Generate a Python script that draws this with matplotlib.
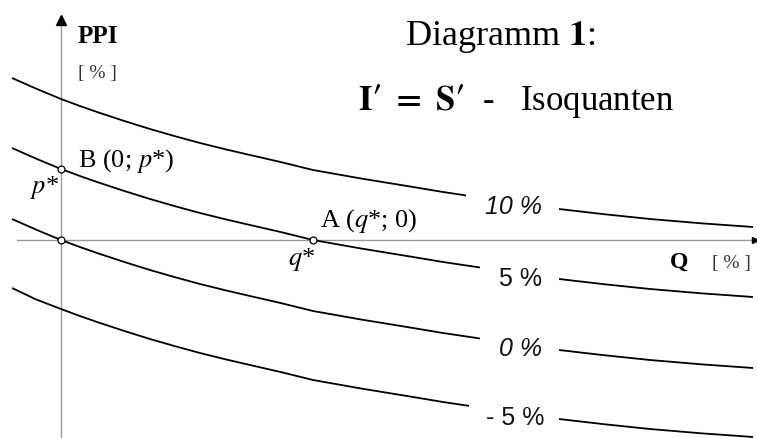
import numpy as np
import matplotlib
matplotlib.use("Agg")
import matplotlib.pyplot as plt
from matplotlib.patches import Rectangle

plt.rcParams['font.family'] = ['Liberation Serif', 'DejaVu Sans']
plt.rcParams['mathtext.fontset'] = 'stix'

# Q values (horizontal), shared by all isoquants
q = [-4.9, -2.5, 0.0, 2.0, 3.9, 6.4, 8.9, 11.4, 13.9, 16.4, 18.9, 22.0,
     25.2, 30.0, 34.6, 38.2, 41.9, 45.8, 49.8, 54.3, 58.9, 64.0, 69.2]

# PPI values of each isoquant
ppi_10 = [16.2, 15.14, 14.1, 13.36, 12.7, 11.88, 11.1, 10.38, 9.7, 9.08, 8.5, 7.79,
          7.0, 6.15, 5.4, 4.8, 4.25, 3.67, 3.1, 2.58, 2.1, 1.67, 1.3]
ppi_5 = [9.2, 8.14, 7.1, 6.36, 5.7, 4.88, 4.1, 3.38, 2.7, 2.08, 1.5, 0.79,
         0.0, -0.85, -1.6, -2.2, -2.75, -3.33, -3.9, -4.42, -4.9, -5.33, -5.7]
ppi_0 = [2.1, 1.04, 0.0, -0.74, -1.4, -2.22, -3.0, -3.72, -4.4, -5.02, -5.6, -6.31,
         -7.1, -7.95, -8.7, -9.3, -9.85, -10.43, -11.0, -11.52, -12.0, -12.43, -12.8]
ppi_m5 = [-4.8, -5.94, -6.9, -7.64, -8.3, -9.12, -9.9, -10.62, -11.3, -11.92, -12.5, -13.21,
          -14.0, -14.85, -15.6, -16.2, -16.75, -17.33, -17.9, -18.42, -18.9, -19.33, -19.7]

curve_labels = ['10 %', '5 %', '0 %', '- 5 %']

# marked points: B (0; p*), origin, A (q*; 0)
p_star = 7.1
q_star = 25.2

fig = plt.figure(figsize=(7.57, 4.39), dpi=100)
ax = fig.add_axes([0, 0, 1, 1])
ax.set_xlim(-6.1, 69.6)
ax.set_ylim(-19.8, 24.1)
ax.axis('off')

# axes
axis_col = '#9a9a9a'
ax.plot([-4.4, 69.3], [0, 0], color=axis_col, lw=1.0, zorder=1)
ax.plot([0, 0], [-19.8, 22.4], color=axis_col, lw=1.0, zorder=1)
ax.plot([0], [22.0], marker='^', color='black', markersize=7, zorder=2)
ax.plot([69.4], [0], marker='>', color='black', markersize=4, zorder=2)

# isoquants
for vals in [ppi_10, ppi_5, ppi_0, ppi_m5]:
    ax.plot(q, vals, color='black', lw=1.3, solid_capstyle='butt', zorder=3)

# gaps in the curves for the labels
gaps = [(40.5, 49.8, 3.4), (41.9, 49.8, -3.8), (41.9, 49.8, -10.8), (40.8, 49.8, -17.7)]
for x0, x1, yc in gaps:
    ax.add_patch(Rectangle((x0, yc - 1.8), x1 - x0, 3.6, facecolor='white',
                           edgecolor='none', zorder=4))

label_style = ['italic', 'normal', 'italic', 'normal']
for (x0, x1, yc), txt, st in zip(gaps, curve_labels, label_style):
    ax.text((x0 + x1) / 2 + 0.1, yc, txt, family='Liberation Sans', fontsize=18,
            style=st, ha='center', va='center', color='#111111', zorder=5)

# marked points
ax.plot([0, 0, q_star], [p_star, 0, 0], linestyle='none', marker='o', markersize=5,
        mfc='white', mec='black', mew=0.9, zorder=6)

# axis labels
ax.text(1.7, 19.8, 'PPI', fontsize=18, fontweight='bold', ha='left', va='baseline')
ax.text(1.7, 16.3, '[ % ]', fontsize=14, color='#333333', ha='left', va='baseline')
ax.text(60.9, -2.7, 'Q', fontsize=17, fontweight='bold', ha='left', va='baseline')
ax.text(65.1, -2.7, '[ % ]', fontsize=14, color='#333333', ha='left', va='baseline')

# point labels
ax.text(1.7, 7.4, r'B (0; $p$*)', fontsize=19, ha='left', va='baseline')
ax.text(-3.1, 4.8, r'$p$*', fontsize=19, ha='left', va='baseline')
ax.text(25.9, 1.4, r'A ($q$*; 0)', fontsize=19, ha='left', va='baseline')
ax.text(22.7, -2.4, r'$q$*', fontsize=19, ha='left', va='baseline')

# titles
ax.text(34.4, 19.6, r'Diagramm $\mathbf{1}$:', fontsize=26, ha='left', va='baseline')
ax.text(29.7, 13.1, r"$\mathbf{I\prime\ =\ S\prime}$  -   Isoquanten", fontsize=25,
        ha='left', va='baseline')

fig.savefig('out.png', dpi=100)
